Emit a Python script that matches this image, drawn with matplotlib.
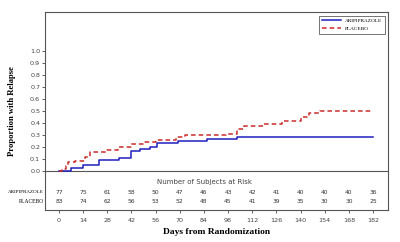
import matplotlib
matplotlib.use("Agg")
import matplotlib.pyplot as plt
import numpy as np

# Data
ari_days = [0, 7, 14, 23, 35, 42, 47, 53, 57, 69, 86, 103, 182]
ari_vals = [0, 0.025, 0.05, 0.09, 0.11, 0.17, 0.185, 0.2, 0.235, 0.25, 0.265, 0.28, 0.28]
pla_days = [0, 2, 4, 5, 9, 15, 18, 28, 34, 42, 49, 56, 68, 73, 97, 103, 107, 119, 129, 140, 145, 151, 182]
pla_vals = [0, 0.02, 0.045, 0.075, 0.085, 0.12, 0.155, 0.175, 0.2, 0.225, 0.245, 0.26, 0.28, 0.3, 0.31,
            0.35, 0.375, 0.39, 0.42, 0.45, 0.48, 0.50, 0.50]
risk_days = [0, 14, 28, 42, 56, 70, 84, 98, 112, 126, 140, 154, 168, 182]
ari_risk = [77, 75, 61, 58, 50, 47, 46, 43, 42, 41, 40, 40, 40, 36]
pla_risk = [83, 74, 62, 56, 53, 52, 48, 45, 41, 39, 35, 30, 30, 25]
y_ticks = [0.0, 0.1, 0.2, 0.3, 0.4, 0.5, 0.6, 0.7, 0.8, 0.9, 1.0]

BLUE = "#1f1fbf"
RED = "#cc2b2b"
serif = "Liberation Serif"

fig = plt.figure(figsize=(4.0, 2.42), dpi=100)
ax = fig.add_axes([0.1125, 0.132, 0.8575, 0.818])
ax.set_xlim(-8.1, 190.7)
ax.set_ylim(-0.325, 1.325)

ax.axhline(0, color="#555555", lw=0.8, zorder=1)
ax.step(ari_days, ari_vals, where="post", color=BLUE, lw=1.1, label="ARIPIPRAZOLE", zorder=3)
ax.step(pla_days, pla_vals, where="post", color=RED, lw=1.1, ls=(0, (3, 2)), label="PLACEBO", zorder=3)

ax.set_yticks(y_ticks)
ax.set_yticklabels([f"{v:.1f}" for v in y_ticks])
ax.set_xticks(risk_days)
ax.tick_params(axis="both", labelsize=4.6, colors="#444444", length=2, width=0.6, pad=1.5)
ax.tick_params(axis="x", pad=4)
for s in ax.spines.values():
    s.set_color("#555555")
    s.set_linewidth(0.8)

ax.text(84.6, -0.092, "Number of Subjects at Risk", ha="center", va="center", fontsize=5,
        color="#444444")
for d, a, p in zip(risk_days, ari_risk, pla_risk):
    ax.text(d, -0.175, str(a), ha="center", va="center", fontsize=4.3, color="#333333")
    ax.text(d, -0.25, str(p), ha="center", va="center", fontsize=4.3, color="#333333")
ax.text(-8.6, -0.175, "ARIPIPRAZOLE", ha="right", va="center", fontsize=3.6,
        family=serif, clip_on=False)
ax.text(-8.6, -0.25, "PLACEBO", ha="right", va="center", fontsize=4,
        family=serif, clip_on=False)

ax.set_ylabel("Proportion with Relapse", family=serif, fontweight="bold", fontsize=6.2)
ax.yaxis.set_label_coords(-0.085, 0.5)
ax.set_xlabel("Days from Randomization", family=serif, fontweight="bold", fontsize=6.8, labelpad=3)

leg = ax.legend(loc="upper right", frameon=True, fancybox=False,
                edgecolor="#333333", handlelength=3.5, borderpad=0.5, labelspacing=0.6,
                prop={"family": serif, "size": 3.8}, bbox_to_anchor=(0.998, 0.995))
leg.get_frame().set_linewidth(0.6)

fig.savefig("out.png", dpi=100, facecolor="white")
